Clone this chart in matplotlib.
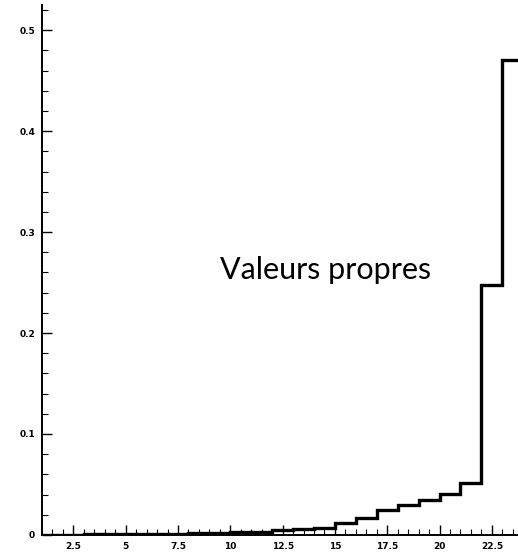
import numpy as np
import matplotlib.pyplot as plt
from matplotlib.ticker import MultipleLocator, FormatStrFormatter

# eigenvalues, one per unit bin from 1 to 24
edges = np.arange(1, 25)
valeurs = [0.0002, 0.0003, 0.0004, 0.0005, 0.0006, 0.0008, 0.001, 0.0015,
           0.002, 0.0025, 0.003, 0.005, 0.006, 0.007, 0.012, 0.017,
           0.025, 0.030, 0.035, 0.041, 0.051, 0.248, 0.470]

fig = plt.figure(figsize=(5.18, 5.52), dpi=100)
ax = fig.add_axes([0.081, 0.031, 0.919, 0.960])

ax.stairs(valeurs, edges, color='black', linewidth=2.4, baseline=0)

ax.set_xlim(1, 23.75)
ax.set_ylim(0, 0.525)

ax.spines['top'].set_visible(False)
ax.spines['right'].set_visible(False)
ax.spines['left'].set_linewidth(1.4)
ax.spines['bottom'].set_linewidth(1.4)

ax.xaxis.set_major_locator(MultipleLocator(2.5))
ax.xaxis.set_minor_locator(MultipleLocator(0.5))
ax.yaxis.set_major_locator(MultipleLocator(0.1))
ax.yaxis.set_minor_locator(MultipleLocator(0.02))
ax.xaxis.set_major_formatter(FormatStrFormatter('%g'))
ax.yaxis.set_major_formatter(FormatStrFormatter('%g'))

ax.tick_params(which='major', direction='in', length=7, width=1.0,
               labelsize=6.5, pad=5)
ax.tick_params(which='minor', direction='in', length=4, width=0.8)
for lab in ax.get_xticklabels() + ax.get_yticklabels():
    lab.set_fontweight('bold')
ax.set_xticks([t for t in ax.get_xticks() if 1 < t < 23.75])

ax.text(0.595, 0.50, 'Valeurs propres', transform=ax.transAxes,
        ha='center', va='center', fontsize=22, family='Lato')

plt.savefig('out.png', dpi=100)
